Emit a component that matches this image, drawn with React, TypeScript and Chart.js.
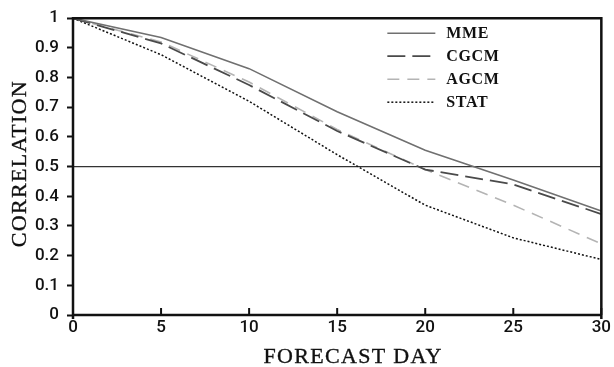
import React, { useEffect, useRef } from "react";
import { Chart, registerables } from "chart.js";

Chart.register(...registerables);

const DAYS = [0, 5, 10, 15, 20, 25, 30];
const MME = [1, 0.935, 0.83, 0.685, 0.555, 0.455, 0.35];
const CGCM = [1, 0.915, 0.775, 0.62, 0.49, 0.44, 0.34];
const AGCM = [1, 0.92, 0.785, 0.625, 0.49, 0.37, 0.24];
const STAT = [1, 0.877, 0.72, 0.54, 0.37, 0.26, 0.187];
const SERIES_NAMES = ["MME", "CGCM", "AGCM", "STAT"];
const REF_LINE = 0.5;
const X_TITLE = "FORECAST DAY";
const Y_TITLE = "CORRELATION";

const STYLES = [
  { color: "#707070", dash: [] as number[], width: 1.6 },
  { color: "#4a4a4a", dash: [18, 7], width: 1.8 },
  { color: "#b4b4b4", dash: [12, 8], width: 1.6 },
  { color: "#111111", dash: [2, 2], width: 1.5 },
];

const TITLE_FONT = "22px 'Liberation Serif'";

const toPoints = (vals: number[]) => DAYS.map((d, i) => ({ x: d, y: vals[i] }));

const decor = {
  id: "decor",
  beforeDatasetsDraw(chart: any) {
    const { ctx, chartArea } = chart;
    const y = chart.scales.y.getPixelForValue(REF_LINE);
    ctx.save();
    ctx.strokeStyle = "#333";
    ctx.lineWidth = 1.2;
    ctx.beginPath();
    ctx.moveTo(chartArea.left, y);
    ctx.lineTo(chartArea.right, y);
    ctx.stroke();
    ctx.restore();
  },
  afterDatasetsDraw(chart: any) {
    const { ctx, chartArea } = chart;
    const { left, right, top, bottom } = chartArea;
    const xs = chart.scales.x;
    ctx.save();
    ctx.strokeStyle = "#111";
    ctx.lineWidth = 2.5;
    ctx.setLineDash([]);
    ctx.beginPath();
    ctx.moveTo(left, bottom + 4);
    ctx.lineTo(left, top);
    ctx.lineTo(right, top);
    ctx.lineTo(right, bottom + 4);
    ctx.moveTo(left, bottom);
    ctx.lineTo(right, bottom);
    ctx.stroke();
    // inward x ticks
    ctx.lineWidth = 2;
    xs.ticks.forEach((t: any) => {
      const px = xs.getPixelForValue(t.value);
      ctx.beginPath();
      ctx.moveTo(px, bottom);
      ctx.lineTo(px, bottom - 7);
      ctx.stroke();
    });
    // axis titles
    ctx.fillStyle = "#111";
    ctx.strokeStyle = "#111";
    ctx.lineWidth = 0.35;
    ctx.font = TITLE_FONT;
    (ctx as any).letterSpacing = "1.3px";
    ctx.textAlign = "center";
    ctx.textBaseline = "middle";
    const xtx = (left + right) / 2 + 16;
    const xty = bottom + 42;
    ctx.fillText(X_TITLE, xtx, xty);
    ctx.strokeText(X_TITLE, xtx, xty);
    ctx.save();
    ctx.translate(20, (top + bottom) / 2 - 3);
    ctx.rotate(-Math.PI / 2);
    ctx.fillText(Y_TITLE, 0, 0);
    ctx.strokeText(Y_TITLE, 0, 0);
    ctx.restore();
    // legend
    const x0 = right - 214;
    const x1 = right - 166;
    const tx = right - 155;
    const rowY = [top + 15, top + 38, top + 61, top + 84];
    ctx.font = "bold 16px 'Liberation Serif'";
    (ctx as any).letterSpacing = "0.6px";
    ctx.textBaseline = "middle";
    ctx.textAlign = "left";
    SERIES_NAMES.forEach((name, i) => {
      const s = STYLES[i];
      ctx.strokeStyle = s.color;
      ctx.lineWidth = s.width;
      ctx.setLineDash(s.dash);
      ctx.beginPath();
      ctx.moveTo(x0, rowY[i]);
      ctx.lineTo(x1, rowY[i]);
      ctx.stroke();
      ctx.setLineDash([]);
      ctx.fillText(name, tx, rowY[i] + 1);
    });
    ctx.restore();
  },
};

export default function App() {
  const ref = useRef<HTMLCanvasElement>(null);
  useEffect(() => {
    document.body.style.margin = "0";
    const seriesVals = [MME, CGCM, AGCM, STAT];
    const chart = new Chart(ref.current!, {
      type: "line",
      data: {
        datasets: SERIES_NAMES.map((name, i) => ({
          label: name,
          data: toPoints(seriesVals[i]),
          borderColor: STYLES[i].color,
          borderDash: STYLES[i].dash,
          borderWidth: STYLES[i].width,
          pointRadius: 0,
          fill: false,
          tension: 0,
        })),
      },
      options: {
        animation: false,
        responsive: false,
        maintainAspectRatio: false,
        layout: { padding: { top: 16, right: 11, left: 0, bottom: 0 } },
        plugins: { legend: { display: false }, tooltip: { enabled: false } },
        scales: {
          x: {
            type: "linear",
            min: 0,
            max: 30,
            ticks: {
              stepSize: 5,
              color: "#111",
              padding: 3,
              font: { family: "Roboto", size: 17, weight: "500" },
            },
            grid: { display: false, drawTicks: false },
            border: { display: false },
            title: { display: false },
            afterFit(scale: any) {
              scale.height = 52;
            },
          },
          y: {
            min: 0,
            max: 1,
            ticks: {
              stepSize: 0.1,
              color: "#111",
              padding: 8,
              font: { family: "Roboto", size: 17, weight: "500" },
              callback: (v: any) => Number(Number(v).toFixed(1)).toString(),
            },
            grid: {
              drawOnChartArea: false,
              drawTicks: true,
              tickLength: 6,
              tickWidth: 2,
              tickColor: "#111",
            },
            border: { display: false },
            title: { display: false },
            afterFit(scale: any) {
              scale.width = 73;
            },
          },
        },
      },
      plugins: [decor],
    });
    return () => chart.destroy();
  }, []);
  return (
    <div style={{ width: 614, height: 367, background: "#fff" }}>
      <canvas ref={ref} width={614} height={367} style={{ display: "block" }} />
    </div>
  );
}
